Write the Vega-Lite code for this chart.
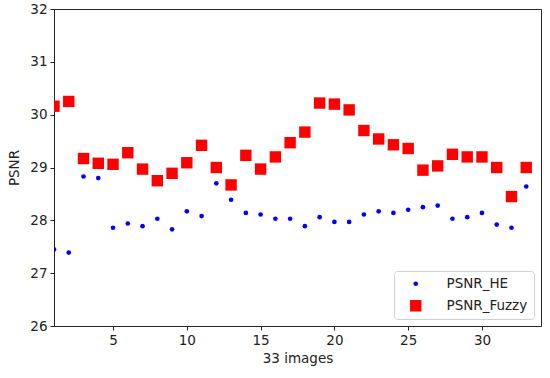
{
  "$schema": "https://vega.github.io/schema/vega-lite/v6.json",
  "width": 487,
  "height": 317,
  "autosize": {"type": "none"},
  "padding": {"left": 54, "top": 9, "right": 9, "bottom": 52},
  "background": "white",
  "config": {
    "font": "DejaVu Sans",
    "view": {"stroke": "#222", "strokeWidth": 1},
    "axis": {"grid": false, "domain": false, "tickColor": "#222", "tickSize": 4, "labelFontSize": 13.5, "labelColor": "#222", "titleFontSize": 13.5, "titleFontWeight": "normal", "titleColor": "#222", "labelPadding": 3}
  },
  "data": {"values": [
    {"img": 1, "series": "PSNR_HE", "psnr": 27.45}, {"img": 2, "series": "PSNR_HE", "psnr": 27.39},
    {"img": 3, "series": "PSNR_HE", "psnr": 28.83}, {"img": 4, "series": "PSNR_HE", "psnr": 28.80},
    {"img": 5, "series": "PSNR_HE", "psnr": 27.86}, {"img": 6, "series": "PSNR_HE", "psnr": 27.94},
    {"img": 7, "series": "PSNR_HE", "psnr": 27.89}, {"img": 8, "series": "PSNR_HE", "psnr": 28.03},
    {"img": 9, "series": "PSNR_HE", "psnr": 27.83}, {"img": 10, "series": "PSNR_HE", "psnr": 28.17},
    {"img": 11, "series": "PSNR_HE", "psnr": 28.08}, {"img": 12, "series": "PSNR_HE", "psnr": 28.70},
    {"img": 13, "series": "PSNR_HE", "psnr": 28.39}, {"img": 14, "series": "PSNR_HE", "psnr": 28.14},
    {"img": 15, "series": "PSNR_HE", "psnr": 28.11}, {"img": 16, "series": "PSNR_HE", "psnr": 28.03},
    {"img": 17, "series": "PSNR_HE", "psnr": 28.03}, {"img": 18, "series": "PSNR_HE", "psnr": 27.89},
    {"img": 19, "series": "PSNR_HE", "psnr": 28.06}, {"img": 20, "series": "PSNR_HE", "psnr": 27.97},
    {"img": 21, "series": "PSNR_HE", "psnr": 27.97}, {"img": 22, "series": "PSNR_HE", "psnr": 28.11},
    {"img": 23, "series": "PSNR_HE", "psnr": 28.17}, {"img": 24, "series": "PSNR_HE", "psnr": 28.14},
    {"img": 25, "series": "PSNR_HE", "psnr": 28.20}, {"img": 26, "series": "PSNR_HE", "psnr": 28.25},
    {"img": 27, "series": "PSNR_HE", "psnr": 28.28}, {"img": 28, "series": "PSNR_HE", "psnr": 28.03},
    {"img": 29, "series": "PSNR_HE", "psnr": 28.06}, {"img": 30, "series": "PSNR_HE", "psnr": 28.14},
    {"img": 31, "series": "PSNR_HE", "psnr": 27.92}, {"img": 32, "series": "PSNR_HE", "psnr": 27.86},
    {"img": 33, "series": "PSNR_HE", "psnr": 28.64},
    {"img": 1, "series": "PSNR_Fuzzy", "psnr": 30.16}, {"img": 2, "series": "PSNR_Fuzzy", "psnr": 30.25},
    {"img": 3, "series": "PSNR_Fuzzy", "psnr": 29.17}, {"img": 4, "series": "PSNR_Fuzzy", "psnr": 29.08},
    {"img": 5, "series": "PSNR_Fuzzy", "psnr": 29.06}, {"img": 6, "series": "PSNR_Fuzzy", "psnr": 29.28},
    {"img": 7, "series": "PSNR_Fuzzy", "psnr": 28.97}, {"img": 8, "series": "PSNR_Fuzzy", "psnr": 28.75},
    {"img": 9, "series": "PSNR_Fuzzy", "psnr": 28.89}, {"img": 10, "series": "PSNR_Fuzzy", "psnr": 29.09},
    {"img": 11, "series": "PSNR_Fuzzy", "psnr": 29.42}, {"img": 12, "series": "PSNR_Fuzzy", "psnr": 29.00},
    {"img": 13, "series": "PSNR_Fuzzy", "psnr": 28.67}, {"img": 14, "series": "PSNR_Fuzzy", "psnr": 29.23},
    {"img": 15, "series": "PSNR_Fuzzy", "psnr": 28.97}, {"img": 16, "series": "PSNR_Fuzzy", "psnr": 29.20},
    {"img": 17, "series": "PSNR_Fuzzy", "psnr": 29.47}, {"img": 18, "series": "PSNR_Fuzzy", "psnr": 29.67},
    {"img": 19, "series": "PSNR_Fuzzy", "psnr": 30.22}, {"img": 20, "series": "PSNR_Fuzzy", "psnr": 30.20},
    {"img": 21, "series": "PSNR_Fuzzy", "psnr": 30.09}, {"img": 22, "series": "PSNR_Fuzzy", "psnr": 29.70},
    {"img": 23, "series": "PSNR_Fuzzy", "psnr": 29.54}, {"img": 24, "series": "PSNR_Fuzzy", "psnr": 29.43},
    {"img": 25, "series": "PSNR_Fuzzy", "psnr": 29.36}, {"img": 26, "series": "PSNR_Fuzzy", "psnr": 28.95},
    {"img": 27, "series": "PSNR_Fuzzy", "psnr": 29.03}, {"img": 28, "series": "PSNR_Fuzzy", "psnr": 29.25},
    {"img": 29, "series": "PSNR_Fuzzy", "psnr": 29.20}, {"img": 30, "series": "PSNR_Fuzzy", "psnr": 29.20},
    {"img": 31, "series": "PSNR_Fuzzy", "psnr": 29.00}, {"img": 32, "series": "PSNR_Fuzzy", "psnr": 28.45},
    {"img": 33, "series": "PSNR_Fuzzy", "psnr": 29.00}
  ]},
  "mark": {"type": "point", "filled": true, "opacity": 1, "clip": true},
  "encoding": {
    "x": {"field": "img", "type": "quantitative", "title": "33 images",
      "scale": {"domain": [1, 34], "nice": false, "zero": false},
      "axis": {"values": [5, 10, 15, 20, 25, 30], "titlePadding": 5}},
    "y": {"field": "psnr", "type": "quantitative", "title": "PSNR",
      "scale": {"domain": [26, 32], "nice": false, "zero": false},
      "axis": {"values": [26, 27, 28, 29, 30, 31, 32], "titlePadding": 8}},
    "color": {"field": "series", "type": "nominal",
      "scale": {"domain": ["PSNR_HE", "PSNR_Fuzzy"], "range": ["#0000ff", "#ff0000"]},
      "legend": {"title": null, "orient": "bottom-right", "offset": 7, "strokeColor": "#d0d0d0", "fillColor": "white", "padding": 6, "cornerRadius": 3, "labelFontSize": 13.5, "labelColor": "#222", "rowPadding": 7, "symbolOffset": 9, "labelOffset": 24, "labelLimit": 200}},
    "shape": {"field": "series", "type": "nominal",
      "scale": {"domain": ["PSNR_HE", "PSNR_Fuzzy"], "range": ["circle", "square"]}},
    "size": {"field": "series", "type": "nominal",
      "scale": {"domain": ["PSNR_HE", "PSNR_Fuzzy"], "range": [22, 130]}}
  }
}
